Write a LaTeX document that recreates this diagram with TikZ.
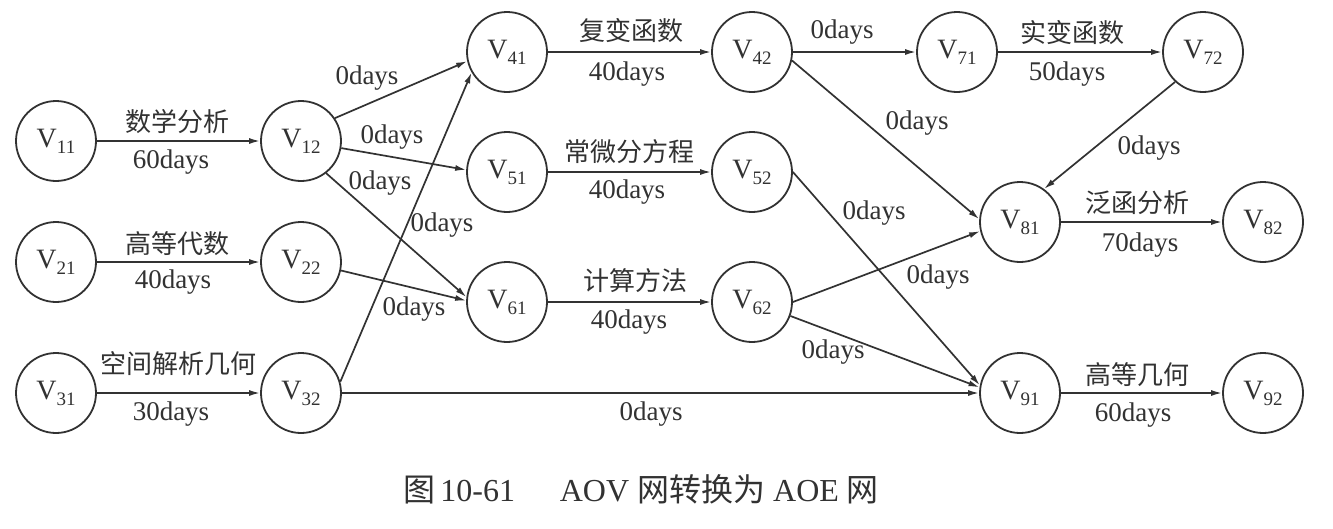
\documentclass[tikz,border=0pt]{standalone}
\usepackage{fontspec}
\setmainfont{Liberation Serif}
\newfontfamily\cjk{Noto Sans CJK SC}
\usetikzlibrary{arrows.meta}
\definecolor{ink}{RGB}{50,50,50}
\tikzset{
  vtx/.style={circle, draw=ink, line width=1.8pt, minimum size=80pt, inner sep=0pt, text=ink},
  edge/.style={draw=ink, line width=1.7pt, -{Latex[length=11pt,width=6pt]}},
  lbl/.style={text=ink, font=\fontsize{27}{27}\selectfont, inner sep=0pt},
  zh/.style={text=ink, font=\cjk\fontsize{26}{26}\selectfont, inner sep=0pt},
  captxt/.style={text=ink, font=\fontsize{32}{32}\selectfont, inner sep=0pt},
}
\newcommand{\vlab}[1]{{\fontsize{28}{28}\selectfont V}\raisebox{-6pt}{\fontsize{19}{19}\selectfont #1}}
\begin{document}
\begin{tikzpicture}[x=1pt,y=-1pt]
\useasboundingbox (0,0) rectangle (1333,528);
\fill[white] (0,0) rectangle (1333,528);
% vertices
\node[vtx] (v11) at (56,141) {\vlab{11}};
\node[vtx] (v12) at (301,141) {\vlab{12}};
\node[vtx] (v21) at (56,262) {\vlab{21}};
\node[vtx] (v22) at (301,262) {\vlab{22}};
\node[vtx] (v31) at (56,393) {\vlab{31}};
\node[vtx] (v32) at (301,393) {\vlab{32}};
\node[vtx] (v41) at (507,52) {\vlab{41}};
\node[vtx] (v42) at (752,52) {\vlab{42}};
\node[vtx] (v51) at (507,172) {\vlab{51}};
\node[vtx] (v52) at (752,172) {\vlab{52}};
\node[vtx] (v61) at (507,302) {\vlab{61}};
\node[vtx] (v62) at (752,302) {\vlab{62}};
\node[vtx] (v71) at (957,52) {\vlab{71}};
\node[vtx] (v72) at (1203,52) {\vlab{72}};
\node[vtx] (v81) at (1020,222) {\vlab{81}};
\node[vtx] (v82) at (1263,222) {\vlab{82}};
\node[vtx] (v91) at (1020,393) {\vlab{91}};
\node[vtx] (v92) at (1263,393) {\vlab{92}};
% edges
\draw[edge] (v11) -- (v12);
\draw[edge] (v21) -- (v22);
\draw[edge] (v31) -- (v32);
\draw[edge] (v12.34) -- (v41.193);
\draw[edge] (v12.-10) -- (v51.177);
\draw[edge] (v12.-52) -- (v61.173);
\draw[edge] (v22.-12) -- (v61.178);
\draw[edge] (v32.16) -- (v41.210);
\draw[edge] (v32) -- (v91);
\draw[edge] (v41) -- (v42);
\draw[edge] (v51) -- (v52);
\draw[edge] (v61) -- (v62);
\draw[edge] (v42) -- (v71);
\draw[edge] (v42.-12) -- (v81.176);
\draw[edge] (v52.0) -- (v91.169);
\draw[edge] (v62.0) -- (v81.193);
\draw[edge] (v62.-20) -- (v91.172);
\draw[edge] (v71) -- (v72);
\draw[edge] (v72.-133) -- (v81.54);
\draw[edge] (v81) -- (v82);
\draw[edge] (v91) -- (v92);
% activity labels
\node[zh] (l1a) at (177,122) {数学分析};
\node[lbl] (l1b) at (171,162) {60days};
\node[zh] (l2a) at (177,244) {高等代数};
\node[lbl] (l2b) at (173,282) {40days};
\node[zh] (l3a) at (178,364) {空间解析几何};
\node[lbl] (l3b) at (171,414) {30days};
\node[zh] (l4a) at (631,31) {复变函数};
\node[lbl] (l4b) at (627,74) {40days};
\node[zh] (l5a) at (629,152) {常微分方程};
\node[lbl] (l5b) at (627,192) {40days};
\node[zh] (l6a) at (635,281) {计算方法};
\node[lbl] (l6b) at (629,322) {40days};
\node[zh] (l7a) at (1072,33) {实变函数};
\node[lbl] (l7b) at (1067,74) {50days};
\node[zh] (l8a) at (1137,203) {泛函分析};
\node[lbl] (l8b) at (1140,245) {70days};
\node[zh] (l9a) at (1137,375) {高等几何};
\node[lbl] (l9b) at (1133,415) {60days};
% dummy labels
\node[lbl] (d1) at (367,78) {0days};
\node[lbl] (d2) at (392,137) {0days};
\node[lbl] (d3) at (380,183) {0days};
\node[lbl] (d4) at (442,225) {0days};
\node[lbl] (d5) at (414,309) {0days};
\node[lbl] (d6) at (651,414) {0days};
\node[lbl] (d7) at (842,32) {0days};
\node[lbl] (d8) at (917,123) {0days};
\node[lbl] (d9) at (874,213) {0days};
\node[lbl] (d10) at (938,277) {0days};
\node[lbl] (d11) at (833,352) {0days};
\node[lbl] (d12) at (1149,148) {0days};
% caption
\node[captxt] (caption) at (641,489) {{\cjk 图}\,10-61\hspace{1.4em}AOV {\cjk 网转换为} AOE {\cjk 网}};
\end{tikzpicture}
\end{document}
